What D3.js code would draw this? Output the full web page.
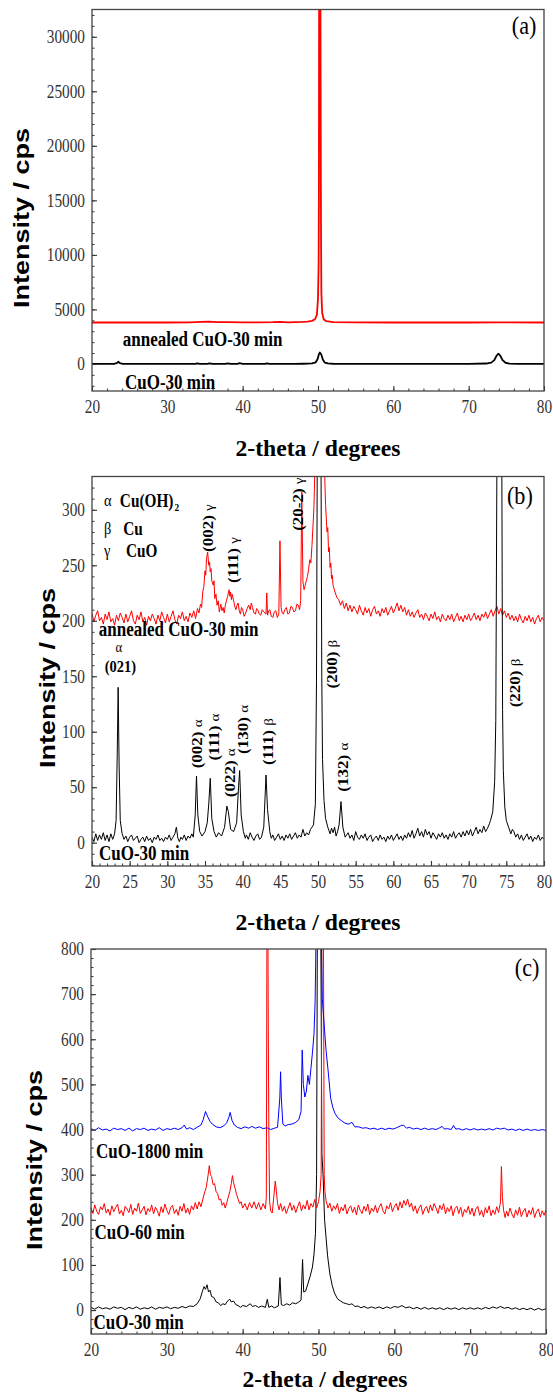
<!DOCTYPE html>
<html>
<head>
<meta charset="utf-8">
<script src="https://cdn.jsdelivr.net/npm/d3@7"></script>
<style>
  body { margin: 0; background: #fff; }
  svg { display: block; }
</style>
</head>
<body>
<div id="chart"></div>
<script>
// XRD patterns: [2-theta, intensity]

// panel (a)
const aBlack = [[20,0],[22.5,5],[23,20],[23.3,80],[23.5,200],[23.7,80],[24,20],[25,0],[30,0],[33.7,10],[34,60],[34.3,0],
  [35.3,10],[35.6,60],[36,0],[37.7,10],[38,60],[38.4,0],[39.3,10],[39.6,70],[40,0],[43,10],[43.2,60],[43.6,0],[47,10],[48,20],
  [49.2,50],[49.7,150],[49.95,450],[50.1,850],[50.25,1050],[50.45,850],[50.65,380],[50.9,130],[51.3,50],[52,20],[53,15],[55,0],
  [60,0],[65,0],[70,5],[72.3,40],[73,120],[73.4,350],[73.7,750],[73.95,950],[74.2,750],[74.5,350],[74.9,110],[75.4,35],[76.5,5],[80,0]];
const aRed = [[20,3800],[25,3800],[30,3800],[33,3810],[34.5,3850],[35.5,3880],[36.5,3840],[38,3830],[40,3820],[42,3810],
  [44,3830],[45,3860],[46,3820],[48,3850],[48.6,3890],[49.2,3950],[49.6,4100],[49.85,4500],[50.0,6000],[50.08,9000],
  [50.12,16000],[50.15,34000],[50.32,34000],[50.36,22000],[50.4,12000],[50.45,6500],[50.55,4700],[50.75,4100],[51.1,3920],
  [52,3840],[55,3810],[60,3800],[65,3800],[70,3800],[74,3810],[80,3800]];

// panel (b)
const bBlack = [[20,5],[20.25,1],[20.5,8],[20.75,2],[21,7],[21.25,3],[21.5,9],[21.75,2],[22,7],[22.25,1],[22.5,8],[22.75,3],
  [23,8],[23.2,20],[23.35,80],[23.47,140],[23.6,70],[23.75,20],[24,8],[24.25,3],[24.5,6],[24.75,1],[25,5],[25.25,7],[25.5,2],
  [25.75,4],[26,6],[26.25,0],[26.5,3],[26.75,5],[27,1],[27.25,6],[27.5,2],[27.75,4],[28,0],[28.25,5],[28.5,3],[28.75,7],[29,2],
  [29.25,4],[29.5,1],[29.75,5],[30,3],[30.25,7],[30.5,2],[30.75,5],[31,8],[31.2,14],[31.4,4],[31.6,1],[31.8,5],[32,3],[32.25,7],
  [32.5,2],[32.75,6],[33,4],[33.25,8],[33.45,5],[33.7,25],[33.87,60],[34.05,25],[34.3,10],[34.6,6],[35,10],[35.3,18],[35.5,35],
  [35.7,58],[35.9,22],[36.2,10],[36.5,5],[36.8,9],[37.2,6],[37.6,14],[37.9,33],[38.1,28],[38.4,12],[38.8,10],[39.2,18],
  [39.45,50],[39.6,65],[39.8,25],[40.1,10],[40.35,4],[40.5,7],[40.75,3],[41,9],[41.25,5],[41.5,2],[41.75,6],[42,8],[42.25,3],
  [42.5,5],[42.8,14],[43.1,61],[43.3,30],[43.6,10],[43.8,4],[44,7],[44.25,2],[44.5,5],[44.75,8],[45,3],[45.25,6],[45.5,2],
  [45.75,7],[46,4],[46.25,8],[46.5,3],[46.75,6],[47,9],[47.25,4],[47.5,7],[47.75,5],[48,12],[48.25,6],[48.5,9],[48.75,7],
  [49,12],[49.4,16],[49.65,35],[49.8,145],[49.9,345],[50.4,345],[50.5,150],[50.6,75],[50.8,38],[51,22],[51.3,14],[51.6,8],
  [51.8,13],[52,9],[52.2,14],[52.4,6],[52.6,10],[52.8,16],[53.05,37],[53.3,14],[53.6,5],[54,9],[54.25,4],[54.5,7],[54.75,2],
  [55,10],[55.25,5],[55.5,3],[55.75,7],[56,4],[56.25,8],[56.5,2],[56.75,5],[57,7],[57.25,1],[57.5,4],[57.75,6],[58,2],
  [58.25,7],[58.5,3],[58.75,5],[59,1],[59.25,6],[59.5,3],[59.75,7],[60,2],[60.25,5],[60.5,8],[60.75,3],[61,6],[61.25,2],
  [61.5,7],[61.75,4],[62,9],[62.25,5],[62.5,11],[62.75,4],[63,8],[63.25,13],[63.5,6],[63.75,10],[64,5],[64.25,12],[64.5,7],
  [64.75,10],[65,4],[65.25,9],[65.5,6],[65.75,3],[66,8],[66.25,5],[66.5,9],[66.75,4],[67,7],[67.25,3],[67.5,8],[67.75,5],
  [68,10],[68.25,4],[68.5,7],[68.75,9],[69,5],[69.25,10],[69.5,6],[69.75,11],[70,7],[70.25,12],[70.5,6],[70.75,10],[71,14],
  [71.25,8],[71.5,12],[71.75,9],[72,15],[72.25,10],[72.5,13],[72.75,17],[72.9,20],[73.2,28],[73.45,55],[73.6,110],[73.75,345],
  [74.4,345],[74.5,120],[74.6,65],[74.8,32],[75,20],[75.3,14],[75.6,8],[75.8,12],[76,10],[76.25,5],[76.5,8],[76.75,3],[77,7],
  [77.25,2],[77.5,5],[77.75,8],[78,3],[78.25,6],[78.5,1],[78.75,5],[79,3],[79.25,7],[79.5,2],[79.75,5],[80,3]];
const bRed = [[20,207],[20.25,199],[20.5,205],[20.75,209],[21,200],[21.25,203],[21.5,197],[21.75,206],[22,201],[22.25,208],
  [22.5,199],[22.75,202],[23,196],[23.25,205],[23.5,200],[23.75,207],[24,203],[24.25,198],[24.5,206],[24.75,199],[25,204],
  [25.25,209],[25.5,200],[25.75,197],[26,205],[26.25,201],[26.5,208],[26.75,199],[27,203],[27.25,196],[27.5,204],[27.75,200],
  [28,206],[28.25,202],[28.5,197],[28.75,205],[29,200],[29.25,208],[29.5,203],[29.75,198],[30,206],[30.25,199],[30.5,204],
  [30.75,209],[31,201],[31.25,197],[31.5,205],[31.75,202],[32,208],[32.25,200],[32.5,204],[32.75,199],[33,207],[33.25,203],
  [33.5,209],[33.75,202],[34,211],[34.2,207],[34.4,215],[34.55,212],[34.7,226],[34.85,231],[35,245],[35.1,241],[35.2,256],
  [35.35,262],[35.5,250],[35.6,253],[35.7,244],[35.8,247],[35.9,236],[36.1,232],[36.2,236],[36.3,220],[36.45,224],[36.6,214],
  [36.75,218],[36.9,208],[37.1,215],[37.25,209],[37.4,212],[37.55,207],[37.7,214],[37.85,218],[38,222],[38.2,228],[38.3,222],
  [38.4,226],[38.5,219],[38.6,224],[38.8,218],[38.95,213],[39.1,210],[39.25,214],[39.4,216],[39.55,209],[39.7,206],[39.85,212],
  [40,210],[40.2,204],[40.4,207],[40.6,211],[40.8,214],[41,210],[41.15,216],[41.3,212],[41.5,207],[41.7,206],[41.85,211],
  [42,210],[42.2,206],[42.4,205],[42.6,210],[42.8,208],[43.1,206],[43.2,225],[43.3,205],[43.45,209],[43.6,210],[43.8,204],
  [44,203],[44.2,208],[44.4,209],[44.6,203],[44.8,206],[44.95,272],[45.1,212],[45.25,207],[45.4,206],[45.6,210],[45.8,212],
  [46,206],[46.2,207],[46.4,213],[46.6,212],[46.8,208],[47,209],[47.2,215],[47.4,214],[47.55,210],[47.7,218],[47.85,316],
  [48.0,235],[48.15,228],[48.3,232],[48.45,236],[48.6,240],[48.75,246],[48.9,255],[49.05,252],[49.2,268],[49.45,300],[49.6,340],
  [50.85,340],[51.0,305],[51.2,280],[51.3,284],[51.4,262],[51.5,266],[51.6,248],[51.7,252],[51.8,238],[51.9,241],[52,232],
  [52.25,226],[52.5,221],[52.75,219],[53,214],[53.25,218],[53.5,211],[53.75,216],[54,209],[54.25,214],[54.5,208],[54.75,213],
  [55,210],[55.25,206],[55.5,214],[55.75,209],[56,205],[56.25,212],[56.5,207],[56.75,211],[57,204],[57.25,210],[57.5,213],
  [57.75,206],[58,209],[58.25,204],[58.5,211],[58.75,207],[59,212],[59.25,205],[59.5,209],[59.75,213],[60,207],[60.25,211],
  [60.5,216],[60.75,209],[61,214],[61.25,208],[61.5,212],[61.75,205],[62,210],[62.25,204],[62.5,208],[62.75,203],[63,207],
  [63.25,210],[63.5,203],[63.75,206],[64,201],[64.25,207],[64.5,204],[64.75,200],[65,206],[65.25,202],[65.5,208],[65.75,201],
  [66,204],[66.25,199],[66.5,206],[66.75,202],[67,200],[67.25,205],[67.5,201],[67.75,206],[68,199],[68.25,203],[68.5,207],
  [68.75,200],[69,204],[69.25,199],[69.5,205],[69.75,201],[70,206],[70.25,200],[70.5,203],[70.75,207],[71,201],[71.25,205],
  [71.5,200],[71.75,206],[72,203],[72.25,208],[72.5,202],[72.75,206],[73,210],[73.25,204],[73.5,209],[73.75,213],[74,206],
  [74.25,211],[74.5,205],[74.75,209],[75,203],[75.25,207],[75.5,201],[75.75,205],[76,200],[76.25,204],[76.5,199],[76.75,206],
  [77,201],[77.25,198],[77.5,204],[77.75,200],[78,205],[78.25,199],[78.5,203],[78.75,197],[79,202],[79.25,205],[79.5,199],
  [79.75,203],[80,200]];

// panel (c)
const cBlack = [[20,6],[20.5,2],[21,7],[21.5,3],[22,5],[22.5,2],[23,7],[23.5,4],[24,6],[24.5,1],[25,6],[25.5,3],[26,7],[26.5,2],
  [27,5],[27.5,3],[28,7],[28.5,2],[29,6],[29.5,4],[30,7],[30.5,3],[31,6],[31.5,4],[32,8],[32.5,5],[33,9],[33.5,8],[34,14],
  [34.4,25],[34.7,42],[34.9,52],[35.1,46],[35.3,56],[35.5,40],[35.7,44],[35.9,30],[36.2,28],[36.5,18],[36.8,16],[37.1,10],
  [37.4,14],[37.7,12],[38,20],[38.3,24],[38.5,18],[38.8,20],[39.1,12],[39.4,10],[39.7,6],[40,10],[40.5,8],[41,14],[41.3,8],
  [41.7,10],[42.1,6],[42.5,9],[43,6],[43.25,24],[43.45,6],[43.8,9],[44.2,5],[44.7,9],[44.92,72],[45.1,12],[45.4,10],[45.8,14],
  [46.2,11],[46.6,16],[47,14],[47.4,18],[47.7,22],[47.9,112],[48.05,40],[48.3,42],[48.6,58],[48.9,75],[49.2,95],[49.4,122],
  [49.6,170],[49.75,300],[49.85,850],[50.3,850],[50.45,345],[50.6,300],[50.8,200],[51,160],[51.2,120],[51.5,80],[51.8,55],
  [52.1,38],[52.5,25],[52.9,20],[53.3,16],[53.7,14],[54.1,12],[54.4,14],[54.8,8],[55.2,9],[55.6,5],[56,8],[56.5,4],[57,7],
  [57.5,4],[58,7],[58.5,3],[59,7],[59.5,4],[60,8],[60.5,6],[61,10],[61.5,5],[62,7],[62.5,3],[63,6],[63.5,2],[64,6],[64.5,2],
  [65,5],[65.5,2],[66,5],[66.5,1],[67,5],[67.5,2],[68,5],[68.5,1],[69,5],[69.5,2],[70,5],[70.5,2],[71,5],[71.5,2],[72,6],
  [72.5,3],[73,7],[73.5,4],[74,8],[74.5,4],[75,6],[75.5,2],[76,5],[76.5,1],[77,4],[77.5,1],[78,4],[78.5,0],[79,4],[79.5,0],[80,3]];
const cRed = [[20,226],[20.25,214],[20.5,233],[20.75,219],[21,212],[21.25,229],[21.5,222],[21.75,236],[22,215],[22.25,224],
  [22.5,210],[22.75,231],[23,218],[23.25,227],[23.5,235],[23.75,213],[24,221],[24.25,209],[24.5,230],[24.75,224],[25,216],
  [25.25,234],[25.5,212],[25.75,226],[26,219],[26.25,237],[26.5,214],[26.75,222],[27,230],[27.25,211],[27.5,225],[27.75,218],
  [28,233],[28.25,213],[28.5,228],[28.75,220],[29,208],[29.25,229],[29.5,216],[29.75,235],[30,221],[30.25,212],[30.5,227],
  [30.75,232],[31,214],[31.25,223],[31.5,210],[31.75,230],[32,219],[32.25,236],[32.5,215],[32.75,226],[33,212],[33.25,231],
  [33.5,222],[33.75,238],[34,224],[34.25,240],[34.5,229],[34.75,246],[35,262],[35.2,272],[35.45,300],[35.6,320],[35.75,300],
  [35.9,296],[36.1,278],[36.3,280],[36.5,262],[36.7,258],[36.9,244],[37.1,246],[37.3,232],[37.5,238],[37.7,226],[37.9,238],
  [38.1,250],[38.3,262],[38.5,280],[38.65,298],[38.8,282],[39,270],[39.2,256],[39.4,246],[39.6,236],[39.8,240],[40,226],
  [40.3,236],[40.6,222],[40.9,238],[41.2,226],[41.5,240],[41.8,224],[42.1,238],[42.4,222],[42.7,236],[43.0,224],[43.12,250],
  [43.2,850],[43.33,850],[43.38,620],[43.45,400],[43.55,240],[43.7,220],[43.9,215],[44.1,250],[44.3,286],[44.45,262],
  [44.6,236],[44.8,222],[45,236],[45.25,219],[45.5,230],[45.75,214],[46,226],[46.25,238],[46.5,221],[46.75,232],[47,216],
  [47.25,229],[47.5,240],[47.75,220],[48,233],[48.25,224],[48.5,243],[48.75,222],[49,236],[49.25,228],[49.5,245],[49.75,226],
  [50,240],[50.2,262],[50.35,300],[50.45,850],[50.65,850],[50.75,300],[50.85,262],[51,242],[51.25,226],[51.5,237],[51.75,219],
  [52,231],[52.25,223],[52.5,236],[52.75,214],[53,228],[53.25,220],[53.5,234],[53.75,213],[54,225],[54.25,231],[54.5,216],
  [54.75,228],[55,211],[55.25,233],[55.5,221],[55.75,214],[56,230],[56.25,219],[56.5,235],[56.75,212],[57,226],[57.25,218],
  [57.5,232],[57.75,215],[58,228],[58.25,236],[58.5,220],[58.75,213],[59,231],[59.25,224],[59.5,238],[59.75,218],[60,229],
  [60.25,236],[60.5,221],[60.75,240],[61,226],[61.25,243],[61.5,232],[61.75,246],[62,228],[62.25,237],[62.5,219],[62.75,231],
  [63,214],[63.25,226],[63.5,233],[63.75,212],[64,224],[64.25,230],[64.5,215],[64.75,233],[65,220],[65.25,236],[65.5,226],
  [65.75,214],[66,232],[66.25,222],[66.5,236],[66.75,213],[67,227],[67.25,218],[67.5,231],[67.75,209],[68,225],[68.25,230],
  [68.5,214],[68.75,228],[69,207],[69.25,223],[69.5,216],[69.75,230],[70,212],[70.25,226],[70.5,208],[70.75,224],[71,230],
  [71.25,210],[71.5,221],[71.75,206],[72,227],[72.25,215],[72.5,231],[72.75,209],[73,222],[73.25,212],[73.5,229],[73.75,216],
  [74.0,240],[74.12,318],[74.25,250],[74.4,222],[74.6,205],[74.8,219],[75,208],[75.25,226],[75.5,213],[75.75,204],[76,222],
  [76.25,210],[76.5,228],[76.75,207],[77,219],[77.25,225],[77.5,206],[77.75,221],[78,212],[78.25,227],[78.5,205],[78.75,218],
  [79,224],[79.25,206],[79.5,220],[79.75,210],[80,222]];
const cBlue = [[20,402],[20.5,398],[21,404],[21.5,399],[22,401],[22.5,397],[23,403],[23.5,400],[24,402],[24.5,398],[25,403],
  [25.5,397],[26,402],[26.5,400],[27,403],[27.5,398],[28,401],[28.5,399],[29,404],[29.5,398],[30,402],[30.5,400],[31,403],
  [31.5,400],[32,404],[32.3,410],[32.6,401],[33,404],[33.5,400],[34,405],[34.5,410],[34.8,422],[35.1,440],[35.4,428],[35.7,418],
  [36.0,412],[36.5,406],[37,404],[37.5,408],[37.9,415],[38.2,428],[38.35,438],[38.6,420],[38.9,410],[39.3,405],[39.8,402],
  [40.3,406],[40.8,403],[41.2,407],[41.7,403],[42.2,406],[42.7,402],[43.2,404],[43.7,400],[44.2,403],[44.6,405],[44.9,470],
  [45.0,528],[45.1,470],[45.3,412],[45.6,408],[46,411],[46.5,412],[47,416],[47.4,422],[47.7,440],[47.85,576],[48.0,500],
  [48.2,472],[48.4,485],[48.6,520],[48.8,500],[49.0,535],[49.2,570],[49.4,610],[49.55,680],[49.7,850],[50.35,850],[50.5,690],
  [50.8,620],[51.0,575],[51.3,525],[51.6,470],[51.9,448],[52.2,435],[52.6,425],[53,420],[53.5,414],[54,412],[54.4,416],
  [54.8,406],[55.3,406],[55.8,403],[56.3,404],[56.8,401],[57.3,403],[57.8,400],[58.3,403],[58.8,400],[59.3,403],[59.8,401],
  [60.3,404],[60.8,408],[61.2,410],[61.6,403],[62,405],[62.5,401],[63,403],[63.5,400],[64,403],[64.5,400],[65,402],[65.5,400],
  [66,404],[66.3,407],[66.6,401],[67,402],[67.5,400],[67.8,409],[68.1,401],[68.5,402],[69,399],[69.5,402],[70,399],[70.5,402],
  [71,399],[71.5,401],[72,399],[72.5,402],[73,399],[73.5,403],[74,401],[74.5,403],[75,399],[75.5,401],[76,398],[76.5,401],
  [77,398],[77.5,401],[78,398],[78.5,400],[79,398],[79.5,400],[80,398]];

// ticks
const aXTicks = [20, 30, 40, 50, 60, 70, 80];
const bXTicks = [20, 25, 30, 35, 40, 45, 50, 55, 60, 65, 70, 75, 80];
const cXTicks = [20, 30, 40, 50, 60, 70, 80];
const aYTicks = [0, 5000, 10000, 15000, 20000, 25000, 30000];
const bYTicks = [0, 50, 100, 150, 200, 250, 300];
const cYTicks = [0, 100, 200, 300, 400, 500, 600, 700, 800];

// peak labels of panel (b): hkl, phase, anchor [2-theta, intensity]
const bPeakHkl   = ["(002)", "(111)", "(20-2)", "(200)", "(220)", "(002)", "(111)", "(022)", "(130)", "(111)", "(132)"];
const bPeakPhase = ["γ", "γ", "γ", "β", "β", "α", "α", "α", "α", "β", "α"];
const bPeakAt    = [[35.4,262],[38.75,234],[47.35,281],[51.8,139],[76.15,122],[33.95,67],[36.25,74],[38.33,41],[39.97,80],[43.3,70],[53.35,46]];

// legend of panel (b)
const bLegendSym  = ["α", "β", "γ"];
const bLegendName = ["Cu(OH)", "Cu", "CuO"];

const W = 553, H = 1395;
const SQ = 0.85; // the original figure is slightly squeezed horizontally
const serif = "'Liberation Serif', 'Times New Roman', serif";
const sans = "'Liberation Sans', Arial, sans-serif";

const svg = d3.select("#chart").append("svg")
    .attr("width", W)
    .attr("height", H);

svg.append("rect").attr("width", W).attr("height", H).attr("fill", "#fff");

function squeeze(sel) {
    sel.each(function () {
        const w = this.getComputedTextLength();
        this.setAttribute("textLength", w * SQ);
        this.setAttribute("lengthAdjust", "spacingAndGlyphs");
    });
}

function drawPanel(p) {
    const x = d3.scaleLinear().domain([20, 80]).range([p.left, p.right]);
    const y = d3.scaleLinear().domain(p.yDomain).range([p.bottom, p.top]);
    const g = svg.append("g");

    const clipId = "clip-" + p.name;
    g.append("clipPath").attr("id", clipId)
      .append("rect")
        .attr("x", p.left).attr("y", p.top)
        .attr("width", p.right - p.left).attr("height", p.bottom - p.top);

    const line = d3.line().x(d => x(d[0])).y(d => y(d[1]));
    const plot = g.append("g").attr("clip-path", `url(#${clipId})`);
    p.series.forEach(s => {
        plot.append("path")
            .datum(s.values)
            .attr("d", line)
            .attr("fill", "none")
            .attr("stroke", s.color)
            .attr("stroke-width", p.lineWidth)
            .attr("stroke-linejoin", "round");
    });

    // minor ticks
    g.append("g")
        .attr("transform", `translate(0,${p.bottom})`)
        .call(d3.axisBottom(x).tickValues(d3.range(20, 80.01, p.xMinor)).tickSize(-2.5).tickFormat(""))
        .call(a => a.select(".domain").remove());
    g.append("g")
        .attr("transform", `translate(${p.left},0)`)
        .call(d3.axisLeft(y).tickValues(d3.range(p.yMinorStart, p.yDomain[1], p.yMinor)).tickSize(-2.5).tickFormat(""))
        .call(a => a.select(".domain").remove());

    // major ticks
    const xAxis = g.append("g")
        .attr("transform", `translate(0,${p.bottom})`)
        .call(d3.axisBottom(x).tickValues(p.xTicks).tickSize(-5).tickPadding(9).tickFormat(d3.format("d")));
    const yAxis = g.append("g")
        .attr("transform", `translate(${p.left},0)`)
        .call(d3.axisLeft(y).tickValues(p.yTicks).tickSize(-5).tickPadding(7).tickFormat(d3.format("d")));
    [xAxis, yAxis].forEach(a => {
        a.select(".domain").remove();
        a.selectAll("line").attr("stroke-width", 1.1);
        a.selectAll("text")
            .style("font-family", serif)
            .style("font-size", "18px")
            .attr("fill", "#333")
            .call(squeeze);
    });
    g.selectAll(".tick line").attr("stroke", "#333");

    g.append("rect")
        .attr("x", p.left).attr("y", p.top)
        .attr("width", p.right - p.left).attr("height", p.bottom - p.top)
        .attr("fill", "none")
        .attr("stroke", "#444")
        .attr("stroke-width", 1.3);

    // axis titles
    g.append("text")
        .attr("transform", `translate(${p.yTitle[0]},${p.yTitle[1]}) scale(${SQ},1) rotate(-90)`)
        .attr("text-anchor", "middle")
        .attr("dy", "0.35em")
        .style("font-family", sans)
        .style("font-weight", "bold")
        .style("font-size", "27px")
        .text("Intensity / cps");

    g.append("text")
        .attr("x", p.xTitle[0]).attr("y", p.xTitle[1])
        .attr("dy", "0.35em")
        .attr("text-anchor", "middle")
        .style("font-family", serif)
        .style("font-weight", "bold")
        .style("font-size", "24px")
        .attr("textLength", 165)
        .attr("lengthAdjust", "spacingAndGlyphs")
        .text("2-theta / degrees");

    // panel letter
    g.append("text")
        .attr("x", x(p.letterAt[0])).attr("y", y(p.letterAt[1]))
        .attr("dy", "0.35em")
        .attr("text-anchor", "middle")
        .style("font-family", serif)
        .style("font-size", "26px")
        .text(p.letter)
        .call(squeeze);

    // sample names
    p.names.forEach(n => {
        g.append("text")
            .attr("x", x(n.at[0])).attr("y", y(n.at[1]))
            .attr("dy", "0.35em")
            .style("font-family", serif)
            .style("font-weight", "bold")
            .style("font-size", "20px")
            .text(n.text)
            .call(squeeze);
    });

    return { g, x, y };
}

drawPanel({
    name: "a", left: 92, right: 544, top: 9.5, bottom: 391,
    yDomain: [-2480, 32500], xTicks: aXTicks, yTicks: aYTicks,
    xMinor: 2, yMinor: 1000, yMinorStart: -2000, lineWidth: 1.8,
    series: [{ color: "#000", values: aBlack }, { color: "#ff0000", values: aRed }],
    yTitle: [21, 218], xTitle: [318, 448],
    letter: "(a)", letterAt: [77.35, 31070],
    names: [{ text: "annealed CuO-30 min", at: [24.09, 2290] }, { text: "CuO-30 min", at: [24.38, -1650] }]
});

const pb = drawPanel({
    name: "b", left: 92, right: 544, top: 476.5, bottom: 866,
    yDomain: [-21, 330], xTicks: bXTicks, yTicks: bYTicks,
    xMinor: 1, yMinor: 10, yMinorStart: -20, lineWidth: 1,
    series: [{ color: "#ff0000", values: bRed }, { color: "#000", values: bBlack }],
    yTitle: [46.5, 678], xTitle: [318, 922],
    letter: "(b)", letterAt: [76.8, 313],
    names: [{ text: "annealed CuO-30 min", at: [20.9, 193] }, { text: "CuO-30 min", at: [20.93, -9] }]
});

drawPanel({
    name: "c", left: 91, right: 546, top: 949, bottom: 1334,
    yDomain: [-53, 800], xTicks: cXTicks, yTicks: cYTicks,
    xMinor: 2, yMinor: 20, yMinorStart: -40, lineWidth: 1,
    series: [{ color: "#000", values: cBlack }, { color: "#ff0000", values: cRed }, { color: "#0000ff", values: cBlue }],
    yTitle: [34, 1160], xTitle: [325, 1379],
    letter: "(c)", letterAt: [77.5, 760],
    names: [{ text: "CuO-1800 min", at: [20.66, 353] }, { text: "CuO-60 min", at: [20.46, 173] }, { text: "CuO-30 min", at: [20.33, -26] }]
});

// peak labels (b), rotated
bPeakHkl.forEach((hkl, i) => {
    const t = pb.g.append("text")
        .attr("transform", `translate(${pb.x(bPeakAt[i][0])},${pb.y(bPeakAt[i][1])}) scale(${SQ},1) rotate(-90)`)
        .attr("dy", "0.35em")
        .style("font-family", serif)
        .style("font-size", "17px");
    t.append("tspan").style("font-weight", "bold").text(hkl + " ");
    t.append("tspan").style("font-size", "15px").text(bPeakPhase[i]);
});

// (021) alpha, horizontal
pb.g.append("text")
    .attr("x", pb.x(23.57)).attr("y", pb.y(177))
    .attr("dy", "0.35em").attr("text-anchor", "middle")
    .style("font-family", serif).style("font-size", "15px")
    .text("α").call(squeeze);
pb.g.append("text")
    .attr("x", pb.x(23.77)).attr("y", pb.y(159))
    .attr("dy", "0.35em").attr("text-anchor", "middle")
    .style("font-family", serif).style("font-weight", "bold").style("font-size", "17px")
    .text("(021)").call(squeeze);

// legend (b)
const legY = [308.4, 283.2, 263.4];
const legNameX = [23.7, 24.15, 24.5];
bLegendSym.forEach((s, i) => {
    pb.g.append("text")
        .attr("x", pb.x(21.6)).attr("y", pb.y(legY[i]))
        .attr("dy", "0.35em")
        .style("font-family", serif).style("font-size", "17px")
        .text(s).call(squeeze);
    const t = pb.g.append("text")
        .attr("x", pb.x(legNameX[i])).attr("y", pb.y(legY[i]))
        .attr("dy", "0.35em")
        .style("font-family", serif).style("font-weight", "bold").style("font-size", "18px")
        .text(bLegendName[i]);
    t.call(squeeze);
    if (i === 0) {
        const w = +t.attr("textLength");
        pb.g.append("text")
            .attr("x", pb.x(legNameX[i]) + w + 1).attr("y", pb.y(legY[i]) + 11)
            .style("font-family", serif).style("font-weight", "bold").style("font-size", "11px")
            .text("2").call(squeeze);
    }
});
</script>
</body>
</html>
